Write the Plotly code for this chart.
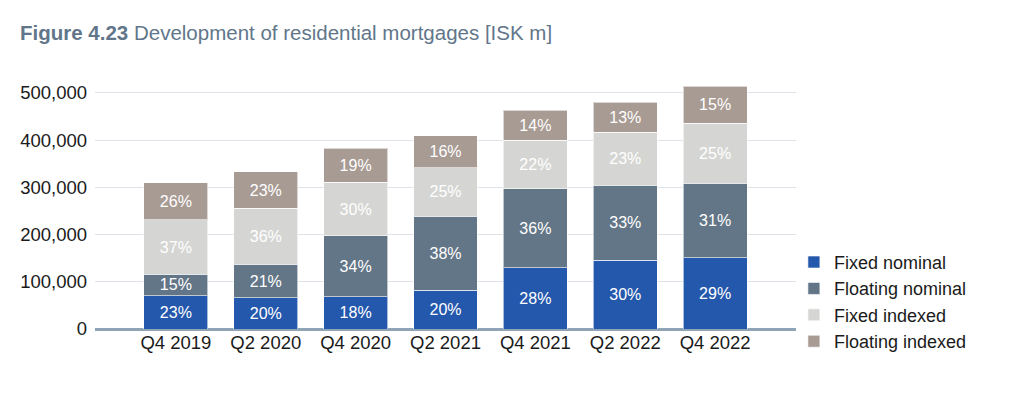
import plotly.graph_objects as go

categories = ["Q4 2019", "Q2 2020", "Q4 2020", "Q2 2021", "Q4 2021", "Q2 2022", "Q4 2022"]
fixed_nominal = [70600, 66300, 68000, 82000, 130000, 146000, 151000]
floating_nominal = [45400, 70700, 129000, 157000, 166600, 158000, 158000]
fixed_indexed = [115000, 119000, 114000, 103000, 103400, 112700, 127000]
floating_indexed = [79000, 76600, 72000, 67000, 63000, 63300, 78000]

fixed_nominal_lbl = ["23%", "20%", "18%", "20%", "28%", "30%", "29%"]
floating_nominal_lbl = ["15%", "21%", "34%", "38%", "36%", "33%", "31%"]
fixed_indexed_lbl = ["37%", "36%", "30%", "25%", "22%", "23%", "25%"]
floating_indexed_lbl = ["26%", "23%", "19%", "16%", "14%", "13%", "15%"]

y_ticks = [0, 100000, 200000, 300000, 400000, 500000]
y_tick_text = ["0", "100,000", "200,000", "300,000", "400,000", "500,000"]

series = [
    ("Fixed nominal", fixed_nominal, fixed_nominal_lbl, "#2458ad"),
    ("Floating nominal", floating_nominal, floating_nominal_lbl, "#637687"),
    ("Fixed indexed", fixed_indexed, fixed_indexed_lbl, "#d5d6d3"),
    ("Floating indexed", floating_indexed, floating_indexed_lbl, "#a89b94"),
]

FONT = "Liberation Sans, Arial, Helvetica, sans-serif"

fig = go.Figure()
for name, vals, lbl, col in series:
    fig.add_trace(go.Bar(
        x=categories, y=vals, name=name, text=lbl,
        textposition="inside", insidetextanchor="middle", textangle=0,
        constraintext="none",
        textfont=dict(color="white", size=16, family=FONT),
        marker=dict(color=col, line=dict(color="rgba(255,255,255,0.6)", width=1)),
        width=0.712, hoverinfo="skip",
    ))

fig.update_layout(
    barmode="stack",
    width=1024, height=396,
    margin=dict(l=87, r=236, t=65.5, b=74.5, autoexpand=False),
    paper_bgcolor="white", plot_bgcolor="white",
    font=dict(family=FONT, color="#1a1a1a", size=18),
    title=dict(
        text="<b>Figure 4.23</b> Development of residential mortgages [ISK m]",
        x=12 / 1024, xanchor="left", xref="container",
        y=1 - 25 / 396, yanchor="middle", yref="container",
        font=dict(size=20.5, color="#61768a", family=FONT),
    ),
    xaxis=dict(
        range=[-0.9, 6.9], showgrid=False, showline=False, zeroline=False,
        tickfont=dict(size=18.5, color="#1a1a1a"), ticks="",
    ),
    yaxis=dict(
        range=[0, 540000], tickvals=y_ticks, ticktext=y_tick_text,
        showgrid=True, gridcolor="#dde3e8", gridwidth=1,
        zeroline=True, zerolinecolor="#8fa4b6", zerolinewidth=3,
        showline=False, tickfont=dict(size=18.5, color="#1a1a1a"), ticks="",
        ticklabelstandoff=7,
    ),
    legend=dict(
        x=0.997, xanchor="left", y=0.334, yanchor="top",
        traceorder="normal", font=dict(size=18, color="#1a1a1a"),
        itemwidth=30, tracegroupgap=0, bgcolor="rgba(0,0,0,0)",
    ),
    showlegend=True,
)

fig.write_html("out.html")
